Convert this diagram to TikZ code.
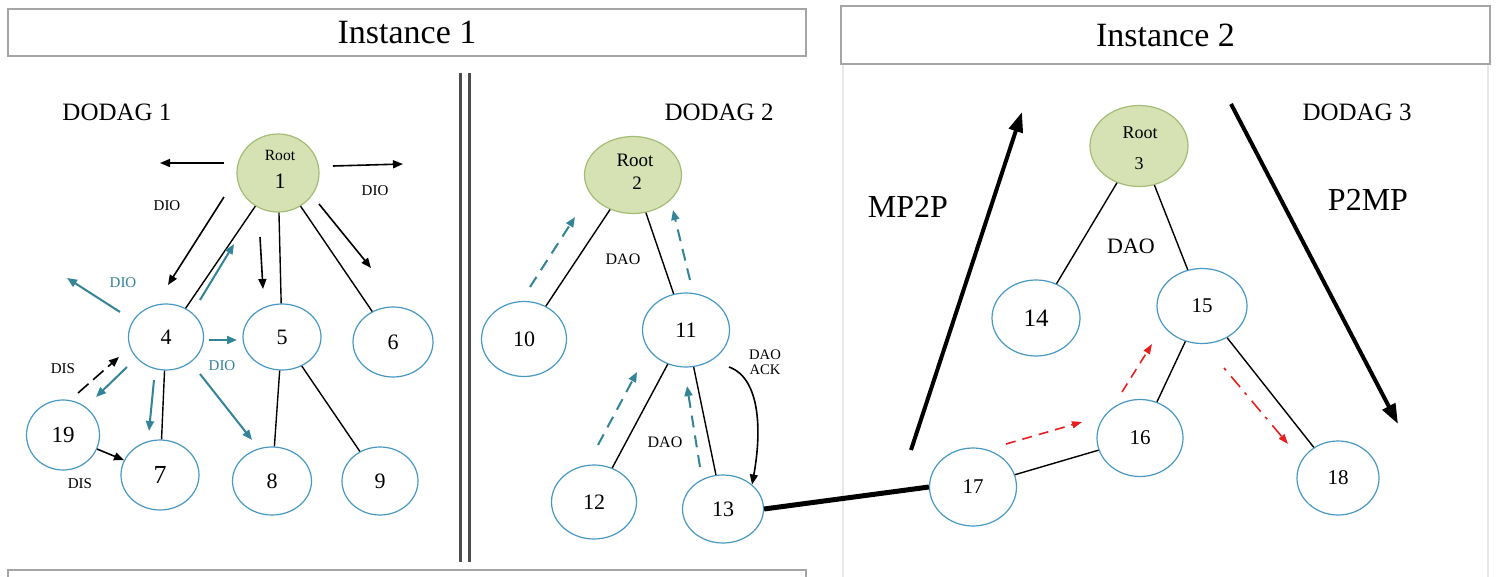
\documentclass[tikz,border=0pt]{standalone}
\usepackage{fontspec}
\setmainfont{Liberation Serif}
\usetikzlibrary{shapes.geometric,arrows.meta}
\definecolor{nodeblue}{RGB}{72,152,196}
\definecolor{tealarr}{RGB}{52,132,152}
\definecolor{rootfill}{RGB}{214,226,180}
\definecolor{rootedge}{RGB}{165,188,118}
\definecolor{boxgray}{RGB}{165,165,165}
\definecolor{panelgray}{RGB}{232,232,232}
\definecolor{redarr}{RGB}{232,30,30}
\tikzset{
  nd/.style={ellipse,draw=nodeblue,line width=0.6pt,inner sep=0pt,font=\fontsize{11}{11}\selectfont},
  rootnd/.style={ellipse,draw=rootedge,fill=rootfill,line width=0.6pt,inner sep=0pt,align=center},
  link/.style={draw=black,line width=0.7pt},
  barr/.style={draw=black,line width=0.8pt,-{Triangle[length=5pt,width=4pt]}},
  tarr/.style={draw=tealarr,line width=1pt,-{Triangle[length=5pt,width=4pt]}},
  tdash/.style={tarr,dash pattern=on 6pt off 4pt},
  rdash/.style={draw=redarr,line width=0.8pt,dash pattern=on 5pt off 3.5pt,-{Triangle[length=5pt,width=3.5pt]}},
  bigarr/.style={draw=black,line width=2pt,-{Triangle[length=10pt,width=7pt]}},
  tinylbl/.style={font=\fontsize{7.5}{7.5}\selectfont},
  hdr/.style={draw=boxgray,line width=0.7pt},
}
\begin{document}
\begin{tikzpicture}[x=0.5pt,y=-0.5pt]
\useasboundingbox (0,0) rectangle (1497,577);
\fill[white] (0,0) rectangle (1497,577);
% Instance boxes
\draw[draw=panelgray,line width=0.7pt] (843,64) -- (843,577);
\draw[draw=panelgray,line width=0.7pt] (1488,64) -- (1488,577);
\node[hdr,minimum width=399pt,minimum height=23.5pt,inner sep=0pt] (inst1) at (407,32.5) {\fontsize{17}{17}\selectfont Instance 1};
\node[hdr,minimum width=324.5pt,minimum height=29pt,inner sep=0pt] (inst2) at (1165.5,35) {\fontsize{17}{17}\selectfont Instance 2};
\draw[hdr] (8,577) -- (8,570) -- (806,570) -- (806,577);
% double separator
\draw[draw=black!70,line width=1.5pt] (460.5,73) -- (460.5,562);
\draw[draw=black!70,line width=1.5pt] (469.5,73) -- (469.5,562);
% labels
\node[font=\fontsize{12.5}{12.5}\selectfont] (d1) at (117,112) {DODAG 1};
\node[font=\fontsize{12.5}{12.5}\selectfont] (d2) at (719,112) {DODAG 2};
\node[font=\fontsize{12.5}{12.5}\selectfont] (d3) at (1357,112) {DODAG 3};
% ---------- DODAG 1 ----------
\node[rootnd,minimum width=41pt,minimum height=39pt] (r1) at (278,173) {};
\node[font=\fontsize{7.8}{7.8}\selectfont] (r1a) at (280,155) {Root};
\node[font=\fontsize{11}{11}\selectfont] (r1b) at (280,181) {1};
\node[nd,minimum width=37.5pt,minimum height=33pt] (n4) at (166,337) {4};
\node[nd,minimum width=39pt,minimum height=33pt] (n5) at (282,337) {5};
\node[nd,minimum width=40pt,minimum height=35pt] (n6) at (393,342) {6};
\node[nd,minimum width=36.5pt,minimum height=35pt,font=\fontsize{11.5}{11.5}\selectfont] (n19) at (63,435) {19};
\node[nd,minimum width=39pt,minimum height=35pt,font=\fontsize{13}{13}\selectfont] (n7) at (160,475) {7};
\node[nd,minimum width=39.5pt,minimum height=34pt] (n8) at (272,481) {8};
\node[nd,minimum width=38pt,minimum height=34pt] (n9) at (380,481) {9};
\draw[link] (r1) -- (n4);
\draw[link] (r1) -- (n5);
\draw[link] (r1) -- (n6);
\draw[link] (n4) -- (n7);
\draw[link] (n5) -- (n8);
\draw[link] (n5) -- (n9);
\coordinate (a1s) at (224,163); \coordinate (a1e) at (160,163);
\coordinate (a2s) at (333,166); \coordinate (a2e) at (403,164);
\coordinate (a3s) at (224,197); \coordinate (a3e) at (168,285);
\coordinate (a4s) at (260,237); \coordinate (a4e) at (263,289);
\coordinate (a5s) at (319,204); \coordinate (a5e) at (371,268);
\draw[barr] (a1s) -- (a1e);
\draw[barr] (a2s) -- (a2e);
\draw[barr] (a3s) -- (a3e);
\draw[barr] (a4s) -- (a4e);
\draw[barr] (a5s) -- (a5e);
\node[tinylbl] (dio1) at (167,206) {DIO};
\node[tinylbl] (dio2) at (375,191) {DIO};
\coordinate (t1s) at (200,300); \coordinate (t1e) at (234,244);
\coordinate (t2s) at (120,312); \coordinate (t2e) at (67,278);
\coordinate (t3s) at (209,340); \coordinate (t3e) at (237,340);
\coordinate (t4s) at (127,367); \coordinate (t4e) at (96,397);
\coordinate (t5s) at (154,380); \coordinate (t5e) at (149,431);
\coordinate (t6s) at (200,374); \coordinate (t6e) at (252,440);
\draw[tarr] (t1s) -- (t1e);
\draw[tarr] (t2s) -- (t2e);
\draw[tarr] (t3s) -- (t3e);
\draw[tarr] (t4s) -- (t4e);
\draw[tarr] (t5s) -- (t5e);
\draw[tarr] (t6s) -- (t6e);
\node[tinylbl,text=tealarr] (dio3) at (123,283) {DIO};
\node[tinylbl,text=tealarr] (dio4) at (222,366) {DIO};
\coordinate (s1s) at (78,393); \coordinate (s1e) at (119,357);
\draw[barr,dash pattern=on 7pt off 3pt] (s1s) -- (s1e);
\draw[barr] (n19) -- (n7);
\node[tinylbl] (dis1) at (63,369) {DIS};
\node[tinylbl] (dis2) at (80,484) {DIS};
% ---------- DODAG 2 ----------
\node[rootnd,minimum width=48.5pt,minimum height=38.5pt] (r2) at (633,175) {};
\node[font=\fontsize{9.5}{9.5}\selectfont] (r2a) at (635,160) {Root};
\node[font=\fontsize{9.5}{9.5}\selectfont] (r2b) at (637,183) {2};
\node[nd,minimum width=42.5pt,minimum height=37.5pt] (n10) at (524,339) {10};
\node[nd,minimum width=43.5pt,minimum height=37pt] (n11) at (686,330) {11};
\node[nd,minimum width=42.5pt,minimum height=37pt] (n12) at (594,502) {12};
\node[nd,minimum width=40.5pt,minimum height=34pt] (n13) at (723,509) {13};
\draw[link] (r2) -- (n10);
\draw[link] (r2) -- (n11);
\draw[link] (n11) -- (n12);
\draw[link] (n11) -- (n13);
\coordinate (u1s) at (530,287); \coordinate (u1e) at (575,217);
\coordinate (u2s) at (690,280); \coordinate (u2e) at (673,210);
\coordinate (u3s) at (598,445); \coordinate (u3e) at (637,372);
\coordinate (u4s) at (700,467); \coordinate (u4e) at (687,386);
\draw[tdash] (u1s) -- (u1e);
\draw[tdash] (u2s) -- (u2e);
\draw[tdash] (u3s) -- (u3e);
\draw[tdash] (u4s) -- (u4e);
\node[font=\fontsize{8}{8}\selectfont] (dao1) at (623,259) {DAO};
\node[font=\fontsize{8}{8}\selectfont] (dao2) at (665,442) {DAO};
\node[font=\fontsize{7.3}{7.6}\selectfont,align=center] (ack) at (765,362) {DAO\\ACK};
\coordinate (k1) at (729,367);
\draw[barr] (k1) .. controls (760,378) and (762,430) .. (n13.north east);
% ---------- DODAG 3 ----------
\node[rootnd,minimum width=49pt,minimum height=40.5pt] (r3) at (1139,146) {};
\node[font=\fontsize{9}{9}\selectfont] (r3a) at (1140,133) {Root};
\node[font=\fontsize{9}{9}\selectfont] (r3b) at (1139,164) {3};
\node[nd,minimum width=44pt,minimum height=38pt,font=\fontsize{12.5}{12.5}\selectfont] (n14) at (1036,318) {14};
\node[nd,minimum width=45pt,minimum height=37.5pt,font=\fontsize{10.5}{10.5}\selectfont] (n15) at (1202,306) {15};
\node[nd,minimum width=43pt,minimum height=38.5pt,font=\fontsize{10.5}{10.5}\selectfont] (n16) at (1140,438) {16};
\node[nd,minimum width=43.5pt,minimum height=39pt,font=\fontsize{10.5}{10.5}\selectfont] (n17) at (973,487) {17};
\node[nd,minimum width=41pt,minimum height=37pt,font=\fontsize{10.5}{10.5}\selectfont] (n18) at (1338,478) {18};
\draw[link] (r3) -- (n14);
\draw[link] (r3) -- (n15);
\draw[link] (n17) -- (n16);
\draw[link] (n16) -- (n15);
\draw[link] (n15) -- (n18);
\draw[draw=black,line width=2.5pt] (n13.east) -- (n17.west);
\node[font=\fontsize{11}{11}\selectfont] (dao3) at (1131,246) {DAO};
\coordinate (m1s) at (911,450); \coordinate (m1e) at (1022,112);
\coordinate (m2s) at (1231,104); \coordinate (m2e) at (1398,424);
\draw[bigarr] (m1s) -- (m1e);
\draw[bigarr] (m2s) -- (m2e);
\node[font=\fontsize{16}{16}\selectfont] (mp2p) at (908,207) {MP2P};
\node[font=\fontsize{16}{16}\selectfont] (p2mp) at (1368,200) {P2MP};
\coordinate (e1s) at (1006,444); \coordinate (e1e) at (1082,422);
\coordinate (e2s) at (1122,392); \coordinate (e2e) at (1152,344);
\coordinate (e3s) at (1224,368); \coordinate (e3e) at (1288,444);
\draw[rdash] (e1s) -- (e1e);
\draw[rdash] (e2s) -- (e2e);
\draw[rdash,dash pattern=on 1.5pt off 4pt on 7pt off 3.5pt] (e3s) -- (e3e);
\end{tikzpicture}
\end{document}
